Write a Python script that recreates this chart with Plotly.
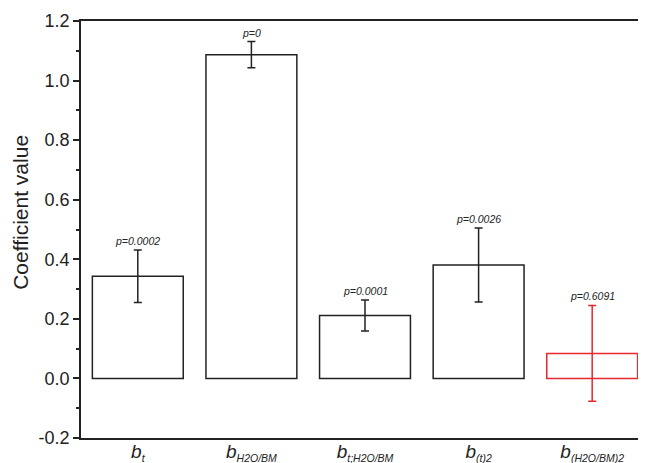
import plotly.graph_objects as go

categories = ["bt", "bH2O/BM", "bt;H2O/BM", "b(t)2", "b(H2O/BM)2"]
cat_labels = [
    "<i>b</i><sub><i><span style='font-size:10.5px'>t</span></i></sub>",
    "<i>b</i><sub><i><span style='font-size:10.5px'>H2O/BM</span></i></sub>",
    "<i>b</i><sub><i><span style='font-size:10.5px'>t;H2O/BM</span></i></sub>",
    "<i>b</i><sub><i><span style='font-size:10.5px'>(t)2</span></i></sub>",
    "<i>b</i><sub><i><span style='font-size:10.5px'>(H2O/BM)2</span></i></sub>",
]
values = [0.343, 1.087, 0.211, 0.381, 0.084]
errors = [0.088, 0.044, 0.052, 0.124, 0.161]
p_labels = ["p=0.0002", "p=0", "p=0.0001", "p=0.0026", "p=0.6091"]
y_tickvals = [-0.2, 0.0, 0.2, 0.4, 0.6, 0.8, 1.0, 1.2]
y_ticktext = ["-0.2", "0.0", "0.2", "0.4", "0.6", "0.8", "1.0", "1.2"]
y_title = "Coefficient value"

BLACK = "#222222"
RED = "#e8272e"

fig = go.Figure()
fig.add_trace(go.Bar(
    x=categories[:4], y=values[:4], width=0.8,
    marker=dict(color="white", line=dict(color=BLACK, width=1.5)),
    error_y=dict(type="data", array=errors[:4], visible=True,
                 color=BLACK, thickness=1.5, width=4),
    showlegend=False,
))
fig.add_trace(go.Bar(
    x=categories[4:], y=values[4:], width=0.8,
    marker=dict(color="white", line=dict(color=RED, width=1.5)),
    error_y=dict(type="data", array=errors[4:], visible=True,
                 color=RED, thickness=1.5, width=4),
    showlegend=False,
))

for c, v, e, p in zip(categories, values, errors, p_labels):
    fig.add_annotation(x=c, y=v + e, text="<i>" + p + "</i>", showarrow=False,
                       yanchor="bottom", yshift=1,
                       font=dict(family="Liberation Sans, Arial", size=10.5, color=BLACK))

# y-axis title as a rotated annotation placed near the left edge
fig.add_annotation(xref="paper", yref="paper", x=0, y=0.54, xshift=-60,
                   xanchor="center", yanchor="middle", textangle=-90,
                   text=y_title, showarrow=False,
                   font=dict(family="Liberation Sans, Arial", size=21, color=BLACK))

fig.update_layout(
    width=646, height=463,
    margin=dict(l=73, r=3, t=10, b=33),
    paper_bgcolor="white", plot_bgcolor="white",
    barmode="overlay",
    font=dict(family="Liberation Sans, Arial", color=BLACK),
)
fig.update_xaxes(
    categoryorder="array", categoryarray=categories,
    tickvals=categories, ticktext=cat_labels,
    tickfont=dict(size=19, color=BLACK),
    ticklabelstandoff=-5,
    showline=True, linecolor=BLACK, linewidth=1.5, mirror=True,
    ticks="", showgrid=False, zeroline=False,
)
fig.update_yaxes(
    range=[-0.2, 1.2], tickvals=y_tickvals, ticktext=y_ticktext,
    tickfont=dict(size=18, color=BLACK),
    showline=True, linecolor=BLACK, linewidth=1.5, mirror=True,
    ticks="outside", ticklen=6, tickwidth=1.5, tickcolor=BLACK,
    minor=dict(ticks="outside", ticklen=3, tickwidth=1.5, tickcolor=BLACK, dtick=0.1, tick0=0),
    showgrid=False, zeroline=False,
)

fig.write_html("out.html")
